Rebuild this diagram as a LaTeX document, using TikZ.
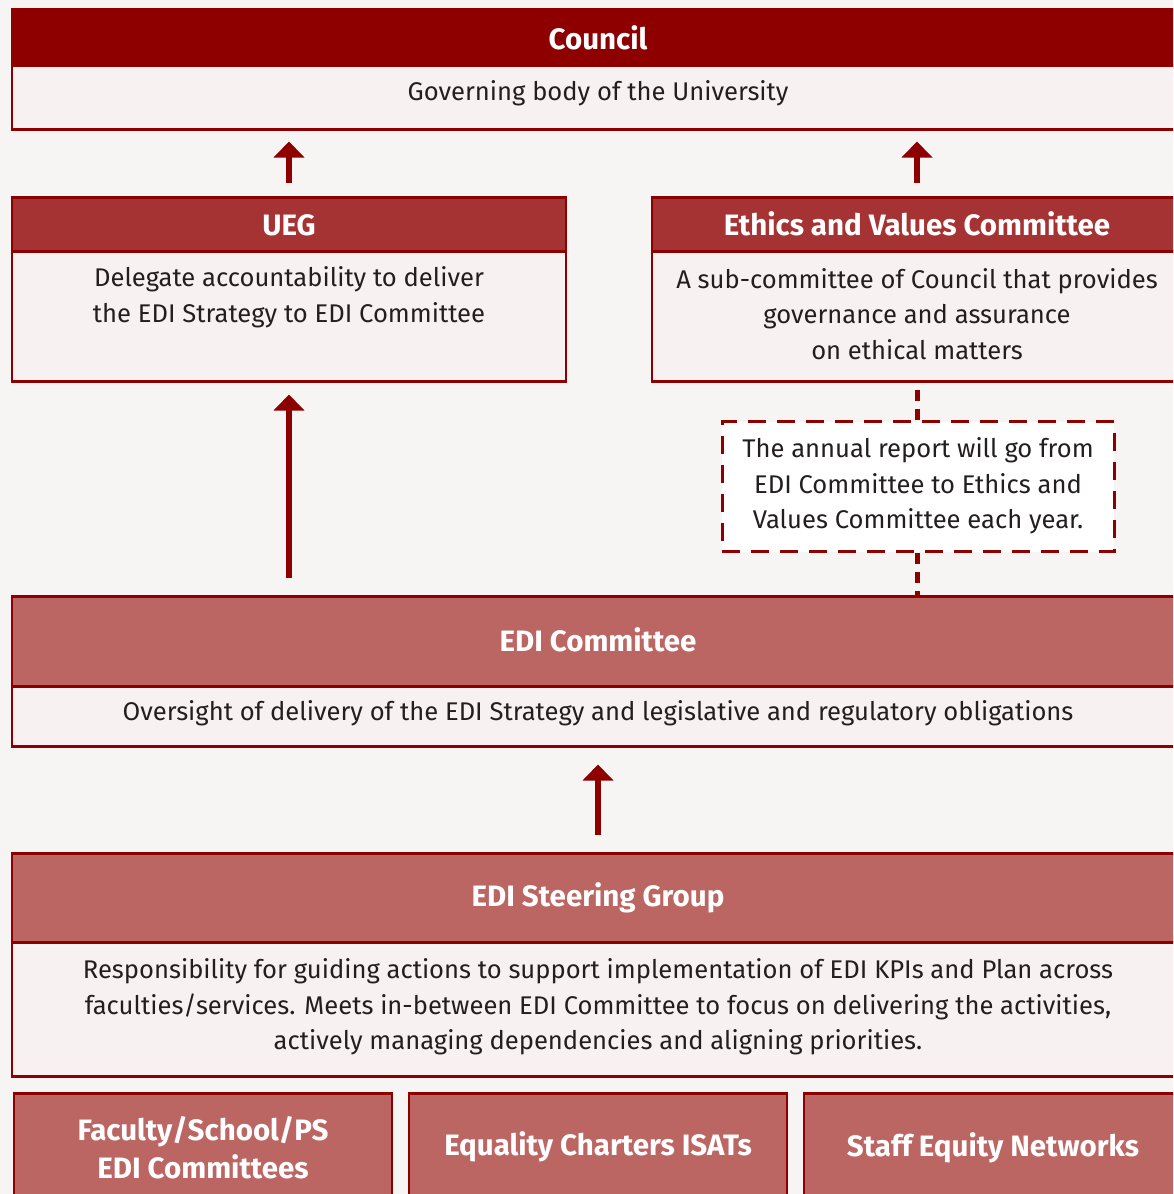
\documentclass[tikz,border=0pt]{standalone}
\usepackage{fontspec}
\setmainfont{Fira Sans}
\usetikzlibrary{arrows.meta}
\definecolor{bgcol}{HTML}{F7F5F4}
\definecolor{deepred}{HTML}{8E0000}
\definecolor{midred}{HTML}{A63334}
\definecolor{softred}{HTML}{BC6664}
\definecolor{bodyfill}{HTML}{F7F1F1}
\definecolor{inkcol}{HTML}{231F20}
\tikzset{
  x=1pt, y=-1pt,
  boxbase/.style={rectangle, draw=deepred, line width=2.5pt, inner sep=0pt, anchor=north, align=center},
  headdark/.style={boxbase, fill=deepred},
  headmid/.style={boxbase, fill=midred},
  headsoft/.style={boxbase, fill=softred},
  bodybox/.style={boxbase, fill=bodyfill},
  titletext/.style={inner sep=0pt, align=center, anchor=center, text=white, font=\fontsize{29.5}{38}\selectfont\bfseries},
  bodytext/.style={inner sep=0pt, align=center, anchor=center, text=inkcol, font=\fontsize{25.6}{35.5}\selectfont},
  notebox/.style={rectangle, draw=deepred, line width=3pt, dash pattern=on 18pt off 11pt, fill=white, text=inkcol, inner sep=0pt, align=center, font=\fontsize{25.6}{35.5}\selectfont},
  uparrow/.style={draw=deepred, line width=5.5pt, -{Triangle[width=30pt,length=16pt]}},
  dashlink/.style={draw=deepred, line width=5pt, dash pattern=on 11pt off 8pt},
}
\begin{document}
\begin{tikzpicture}
\useasboundingbox (0,0) rectangle (1173,1194);
\fill[bgcol] (0,0) rectangle (1173,1194);
\clip (0,0) rectangle (1173,1194);

% Council
\node[headdark, minimum width=1172pt, minimum height=56pt] (councilH) at (598,8) {};
\node[bodybox, minimum width=1172pt, minimum height=64pt] (councilB) at (598,64) {};
\node[titletext] (councilT) at (598,38) {Council};
\node[bodytext] (councilD) at (598,93) {Governing body of the University};

% UEG
\node[headmid, minimum width=554pt, minimum height=54pt] (uegH) at (289,196) {};
\node[bodybox, minimum width=554pt, minimum height=130pt] (uegB) at (289,250) {};
\node[titletext] (uegT) at (289,225) {UEG};
\node[bodytext] (uegD) at (289,297) {Delegate accountability to deliver\\the EDI Strategy to EDI Committee};

% Ethics and Values Committee
\node[headmid, minimum width=530pt, minimum height=54pt] (ethH) at (917,196) {};
\node[bodybox, minimum width=530pt, minimum height=130pt] (ethB) at (917,250) {};
\node[titletext] (ethT) at (917,224) {Ethics and Values Committee};
\node[bodytext] (ethD) at (917,314) {A sub-committee of Council that provides\\governance and assurance\\on ethical matters};

% annual report note
\node[notebox, minimum width=392pt, minimum height=130pt, anchor=north] (note) at (918,420) {};
\node[bodytext] (noteT) at (918,486) {The annual report will go from\\EDI Committee to Ethics and\\Values Committee each year.};

% EDI Committee
\node[headsoft, minimum width=1172pt, minimum height=90pt] (ediH) at (598,595) {};
\node[bodybox, minimum width=1172pt, minimum height=60pt] (ediB) at (598,685) {};
\node[titletext] (ediT) at (598,640) {EDI Committee};
\node[bodytext] (ediD) at (598,713) {Oversight of delivery of the EDI Strategy and legislative and regulatory obligations};

% EDI Steering Group
\node[headsoft, minimum width=1172pt, minimum height=89pt] (steerH) at (598,852) {};
\node[bodybox, minimum width=1172pt, minimum height=134pt] (steerB) at (598,941) {};
\node[titletext] (steerT) at (598,898) {EDI Steering Group};
\node[bodytext] (steerD) at (598,1007) {Responsibility for guiding actions to support implementation of EDI KPIs and Plan across\\faculties/services. Meets in-between EDI Committee to focus on delivering the activities,\\actively managing dependencies and aligning priorities.};

% bottom row
\node[headsoft, minimum width=378pt, minimum height=110pt] (facB) at (203,1092) {};
\node[titletext] (facT) at (203,1148) {Faculty/School/PS\\EDI Committees};
\node[headsoft, minimum width=378pt, minimum height=110pt] (eqB) at (598,1092) {};
\node[titletext] (eqT) at (598,1147) {Equality Charters ISATs};
\node[headsoft, minimum width=378pt, minimum height=110pt] (staffB) at (993,1092) {};
\node[titletext] (staffT) at (993,1148) {Staff Equity Networks};

% connectors
\draw[uparrow, shorten <=13pt, shorten >=11pt] (uegH.north) -- (uegH.north |- councilB.south);
\draw[uparrow, shorten <=13pt, shorten >=11pt] (ethH.north) -- (ethH.north |- councilB.south);
\draw[uparrow, shorten <=17pt, shorten >=12pt] (uegH.north |- ediH.north) -- (uegB.south);
\draw[uparrow, shorten <=17pt, shorten >=17pt] (steerH.north) -- (ediB.south);
\draw[dashlink] (note.north -| ethB.south) -- (ethB.south);
\draw[dashlink] (note.south -| ethB.south) -- (ethB.south |- ediH.north);
\end{tikzpicture}
\end{document}
